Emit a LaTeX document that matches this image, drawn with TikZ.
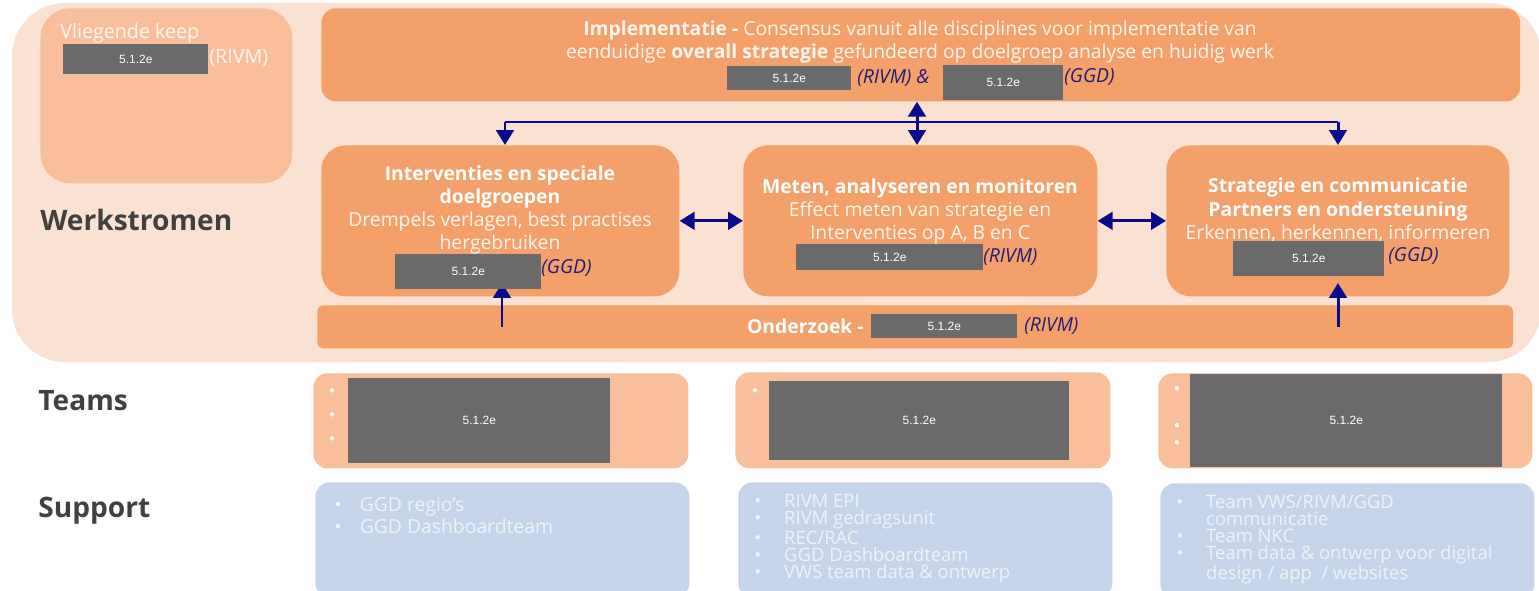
\documentclass[tikz,border=0pt]{standalone}
\usepackage{fontspec}
\setmainfont{Open Sans}
\setsansfont{Liberation Sans}
\usetikzlibrary{arrows.meta}
\definecolor{bgpeach}{HTML}{FBE1D2}
\definecolor{lightor}{HTML}{F8BF9A}
\definecolor{darkor}{HTML}{F4A06A}
\definecolor{suppblue}{HTML}{C6D5EC}
\definecolor{redgray}{HTML}{6A6A6A}
\definecolor{navyc}{HTML}{0A0A8C}
\definecolor{labelgray}{HTML}{404040}
\definecolor{nametext}{HTML}{1E1E78}
\definecolor{boxtext}{HTML}{FFF5EE}
\definecolor{supptext}{HTML}{EEF3FA}
\tikzset{
  x=0.02cm, y=-0.02cm,
  lbox/.style={fill=lightor, draw=none, rounded corners=8pt, anchor=north west, inner sep=0pt},
  dbox/.style={fill=darkor, draw=none, rounded corners=14pt, anchor=north west, inner sep=0pt},
  sbox/.style={fill=suppblue, draw=none, rounded corners=8pt, anchor=north west, inner sep=0pt},
  redact/.style={fill=redgray, text=white, font=\sffamily\fontsize{6.8}{8}\selectfont, anchor=north west, inner sep=0pt},
  who/.style={text=nametext, font=\itshape\fontsize{11}{12}\selectfont, anchor=west, inner sep=0pt},
  btext/.style={text=boxtext, align=center, font=\fontsize{11}{13.2}\selectfont, inner sep=0pt},
  rowlabel/.style={text=labelgray, font=\bfseries\fontsize{16}{18}\selectfont, anchor=west, inner sep=0pt},
  bul/.style={text=white, font=\fontsize{10.5}{11}\selectfont, inner sep=0pt},
  supplist/.style={text=supptext, anchor=north west, inner sep=0pt, align=left},
  navyline/.style={draw=navyc, line width=1.7pt},
  arr/.style={navyline, -{Triangle[width=10pt,length=8.5pt]}},
  darr/.style={navyline, {Triangle[width=10pt,length=8.5pt]}-{Triangle[width=10pt,length=8.5pt]}},
}
\begin{document}
\begin{tikzpicture}
\useasboundingbox (0,0) rectangle (1539,591);
% background region
\path[fill=bgpeach, rounded corners=30pt] (12,3) rectangle (1541,362);

% Vliegende keep
\node[lbox, rounded corners=17pt, minimum width=5.04cm, minimum height=3.5cm] (vk) at (40,8) {};
\node[text=boxtext, font=\fontsize{11.2}{12}\selectfont, anchor=west, inner sep=0pt] (vkt) at (60,33) {Vliegende keep};
\node[redact, minimum width=2.9cm, minimum height=0.6cm] (rvk) at (63,44) {5.1.2e};
\node[text=boxtext, font=\fontsize{11.2}{12}\selectfont, anchor=west, inner sep=0pt] (vkw) at (209,58) {(RIVM)};

% boxes
\node[dbox, rounded corners=8pt, minimum width=23.98cm, minimum height=1.86cm] (impl) at (321,8) {};
\node[dbox, minimum width=7.16cm, minimum height=3.02cm] (intv) at (321,145) {};
\node[dbox, minimum width=7.08cm, minimum height=3.02cm] (meten) at (743,145) {};
\node[dbox, minimum width=6.86cm, minimum height=3.02cm] (strat) at (1166,145) {};
\node[dbox, rounded corners=3.5pt, minimum width=23.92cm, minimum height=0.86cm] (onderz) at (317,305) {};

% arrows
\coordinate (hl) at (505,122);
\coordinate (hm) at (917,122);
\coordinate (hr) at (1338,122);
\draw[navyline] (hl) -- (hr);
\draw[arr] (hl) -- (hl |- intv.north);
\draw[arr] (hr) -- (hr |- strat.north);
\draw[darr] (hm |- impl.south) -- (hm |- meten.north);
\draw[darr] (intv.east) -- (meten.west);
\draw[darr] (meten.east) -- (strat.west);
\coordinate (u1) at (502,327);
\coordinate (u1t) at (502,283);
\coordinate (u2) at (1338,327);
\coordinate (u2t) at (1338,283);
\draw[arr] (u1) -- (u1t);
\draw[arr] (u2) -- (u2t);

% Implementatie text
\node[btext, font=\fontsize{11}{13.6}\selectfont] (implt) at (920,42) {\textbf{Implementatie -} Consensus vanuit alle disciplines voor implementatie van\\
eenduidige \textbf{overall strategie} gefundeerd op doelgroep analyse en huidig werk};
\node[redact, minimum width=2.48cm, minimum height=0.48cm] (rimp1) at (727,66) {5.1.2e};
\node[who] (wimp1) at (857,78) {(RIVM) \&};
\node[redact, minimum width=2.4cm, minimum height=0.7cm] (rimp2) at (943,65) {5.1.2e};
\node[who] (wimp2) at (1064,77) {(GGD)};

% workstream texts
\node[btext] (intvt) at (500,210) {\textcolor{white}{\textbf{Interventies en speciale}}\\ \textcolor{white}{\textbf{doelgroepen}}\\ Drempels verlagen, best practises\\ hergebruiken};
\node[redact, minimum width=2.92cm, minimum height=0.7cm] (rintv) at (395,254) {5.1.2e};
\node[who] (wintv) at (541,268) {(GGD)};

\node[btext] (metent) at (920,211.5) {\textcolor{white}{\textbf{Meten, analyseren en monitoren}}\\ Effect meten van strategie en\\ Interventies op A, B en C};
\node[redact, minimum width=3.74cm, minimum height=0.52cm] (rmeten) at (796,244) {5.1.2e};
\node[who] (wmeten) at (983,257) {(RIVM)};

\node[btext] (stratt) at (1338,210) {\textcolor{white}{\textbf{Strategie en communicatie}}\\ \textcolor{white}{\textbf{Partners en ondersteuning}}\\ Erkennen, herkennen, informeren};
\node[redact, minimum width=3.02cm, minimum height=0.7cm] (rstrat) at (1233,241) {5.1.2e};
\node[who] (wstrat) at (1388,256) {(GGD)};

% Onderzoek text
\node[text=white, font=\bfseries\fontsize{11}{12}\selectfont, anchor=east, inner sep=0pt] (ondt) at (864,326) {Onderzoek -};
\node[redact, minimum width=2.92cm, minimum height=0.48cm] (rond) at (871,314) {5.1.2e};
\node[who] (wond) at (1024,326) {(RIVM)};

% row labels
\node[rowlabel] (lw) at (40,220) {Werkstromen};
\node[rowlabel] (lt) at (38,401) {Teams};
\node[rowlabel] (ls) at (38,511) {Support};

% Teams
\node[lbox, minimum width=7.5cm, minimum height=1.9cm] (team1) at (313,373) {};
\node[lbox, minimum width=7.5cm, minimum height=1.92cm] (team2) at (735,372) {};
\node[lbox, minimum width=7.48cm, minimum height=1.9cm] (team3) at (1158,373) {};
\node[redact, minimum width=5.24cm, minimum height=1.7cm] (rt1) at (348,378) {5.1.2e};
\node[redact, minimum width=6.0cm, minimum height=1.58cm] (rt2) at (769,381) {5.1.2e};
\node[redact, minimum width=6.24cm, minimum height=1.86cm] (rt3) at (1190,374) {5.1.2e};
\node[bul] (b11) at (332,393) {•};
\node[bul] (b12) at (332,417) {•};
\node[bul] (b13) at (332,441) {•};
\node[bul] (b21) at (755,393) {•};
\node[bul] (b31) at (1177,391) {•};
\node[bul] (b32) at (1177,428) {•};
\node[bul] (b33) at (1177,445) {•};

% Support
\node[sbox, minimum width=7.48cm, minimum height=2.3cm] (sup1) at (315,482) {};
\node[sbox, minimum width=7.48cm, minimum height=2.3cm] (sup2) at (738,482) {};
\node[sbox, minimum width=7.48cm, minimum height=2.3cm] (sup3) at (1160,483) {};
\node[supplist, font=\fontsize{11}{12.5}\selectfont] (st1) at (334,497) {\lineskiplimit=-20pt
\makebox[14.5pt][l]{•}GGD regio's\\
\makebox[14.5pt][l]{•}GGD Dashboardteam};
\node[supplist, font=\fontsize{10.5}{9.8}\selectfont] (st2) at (754,494) {\lineskiplimit=-20pt
\makebox[17pt][l]{•}RIVM EPI\\
\makebox[17pt][l]{•}RIVM gedragsunit\\
\makebox[17pt][l]{•}REC/RAC\\
\makebox[17pt][l]{•}GGD Dashboardteam\\
\makebox[17pt][l]{•}VWS team data \& ontwerp};
\node[supplist, font=\fontsize{10.5}{9.6}\selectfont] (st3) at (1176,495) {\lineskiplimit=-20pt
\makebox[17pt][l]{•}Team VWS/RIVM/GGD\\
\hspace*{17pt}communicatie\\
\makebox[17pt][l]{•}Team NKC\\
\makebox[17pt][l]{•}Team data \& ontwerp voor digital\\
\hspace*{17pt}design / app~~/ websites};
\end{tikzpicture}
\end{document}
